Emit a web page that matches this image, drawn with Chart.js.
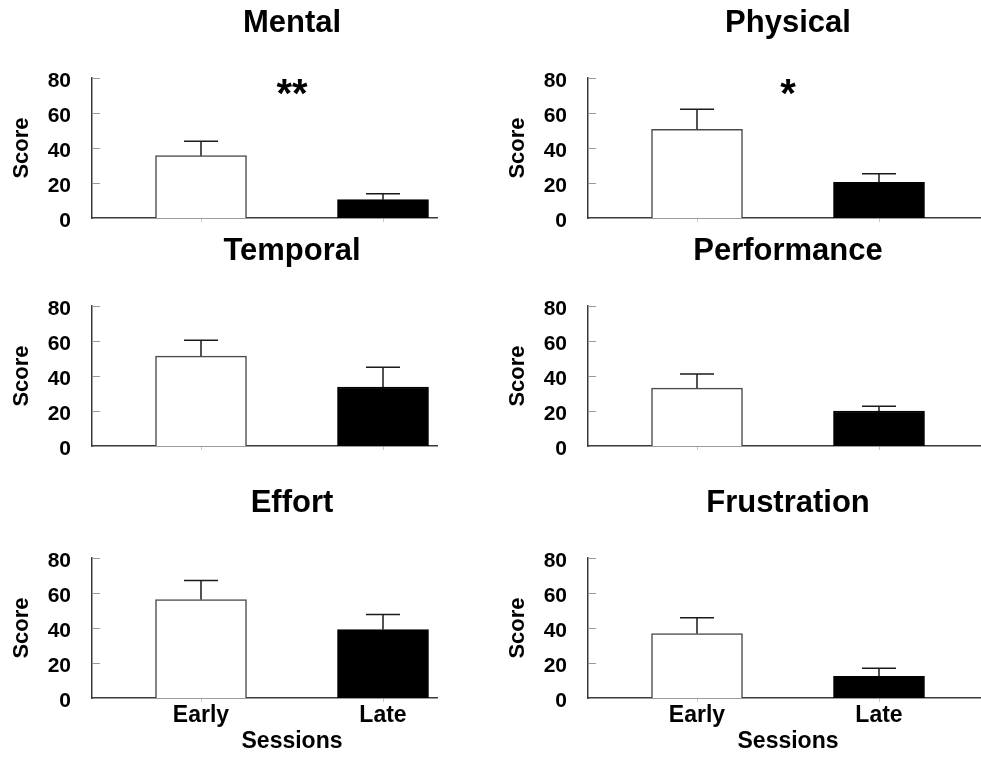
<!DOCTYPE html>
<html>
<head>
<meta charset="utf-8">
<script src="https://cdn.jsdelivr.net/npm/chart.js@4.4.0/dist/chart.umd.min.js"></script>
<style>
  html, body { margin: 0; padding: 0; background: #fff; }
  #wrap { position: relative; width: 981px; height: 757px; overflow: hidden; }
  #wrap canvas { position: absolute; }
</style>
</head>
<body>
<div id="wrap"></div>
<script>
// data
const panels = ['Mental', 'Physical', 'Temporal', 'Performance', 'Effort', 'Frustration'];
const sessions = ['Early', 'Late'];
const earlyMean = [35.6, 50.7, 51.4, 33.1, 56.3, 36.8];
const earlyErr = [8.2, 11.4, 9.0, 8.0, 10.9, 9.0];
const lateMean = [10.5, 20.4, 33.7, 20.0, 39.1, 12.4];
const lateErr = [3.4, 4.9, 11.3, 2.7, 8.6, 4.6];
const signif = ['**', '*', '', '', '', ''];
const yTicks = [0, 20, 40, 60, 80];

const FONT = "'Liberation Sans', Arial, sans-serif";
const rowTop = [0, 228, 480];
const rowHeight = [252, 252, 277];
const colLeft = [0, 490];
const colWidth = [490, 491];
const padL = [0, 6];
const padR = [53, 1];
const plotTop = 78, plotBottom = 218, yAxisW = 92;
const pxPerUnit = 182, firstOffset = 109;

// error bars, inward ticks, panel titles, stars, x title
const decor = {
  id: 'decor',
  afterDatasetsDraw(chart) {
    const { ctx, chartArea, scales: { x, y } } = chart;
    const i = chart.options.plugins.decor.index;
    const meta = chart.getDatasetMeta(0);
    const means = [earlyMean[i], lateMean[i]];
    const errs = [earlyErr[i], lateErr[i]];
    ctx.save();
    ctx.strokeStyle = '#1a1a1a';
    ctx.lineWidth = 1.5;
    meta.data.forEach((bar, k) => {
      const top = y.getPixelForValue(means[k]);
      const hi = y.getPixelForValue(means[k] + errs[k]);
      ctx.beginPath();
      ctx.moveTo(bar.x, top);
      ctx.lineTo(bar.x, hi);
      ctx.moveTo(bar.x - 17, hi);
      ctx.lineTo(bar.x + 17, hi);
      ctx.stroke();
    });
    ctx.strokeStyle = '#9a9a9a';
    ctx.lineWidth = 1;
    yTicks.forEach(v => {
      if (v === 0) return;
      const py = Math.round(y.getPixelForValue(v)) + 0.5;
      ctx.beginPath();
      ctx.moveTo(chartArea.left, py);
      ctx.lineTo(chartArea.left + 8, py);
      ctx.stroke();
    });
    ctx.restore();
  },
  afterDraw(chart) {
    const { ctx, chartArea, scales: { x, y } } = chart;
    const opts = chart.options.plugins.decor;
    const i = opts.index;
    const mid = (x.getPixelForValue(1) + x.getPixelForValue(2)) / 2;
    ctx.save();
    ctx.fillStyle = '#000';
    ctx.textAlign = 'center';
    ctx.textBaseline = 'alphabetic';
    ctx.font = 'bold 31px ' + FONT;
    ctx.fillText(panels[i], mid, chartArea.top - 46);
    if (signif[i]) {
      ctx.font = 'bold 40px ' + FONT;
      const m = ctx.measureText(signif[i]);
      const cy = y.getPixelForValue(74.6);
      const base = cy + (m.actualBoundingBoxAscent - m.actualBoundingBoxDescent) / 2;
      ctx.fillText(signif[i], mid, base);
    }
    if (opts.showX) {
      ctx.font = 'bold 23px ' + FONT;
      ctx.fillText('Sessions', mid, chartArea.bottom + 50);
    }
    ctx.restore();
  }
};

const wrap = document.getElementById('wrap');

panels.forEach((name, i) => {
  const row = Math.floor(i / 2), col = i % 2;
  const bottomRow = row === 2;
  const canvas = document.createElement('canvas');
  canvas.width = colWidth[col];
  canvas.height = rowHeight[row];
  canvas.style.left = colLeft[col] + 'px';
  canvas.style.top = rowTop[row] + 'px';
  wrap.appendChild(canvas);

  const plotW = colWidth[col] - padL[col] - padR[col] - yAxisW;
  const xMin = 1 - firstOffset / pxPerUnit;
  const xMax = xMin + plotW / pxPerUnit;

  new Chart(canvas.getContext('2d'), {
    type: 'bar',
    data: {
      datasets: [{
        data: [{ x: 1, y: earlyMean[i] }, { x: 2, y: lateMean[i] }],
        backgroundColor: ['#ffffff', '#000000'],
        borderColor: ['#4a4a4a', '#000000'],
        borderWidth: 1.5,
        barThickness: 91
      }]
    },
    options: {
      responsive: false,
      animation: false,
      devicePixelRatio: 1,
      layout: { padding: { top: plotTop, left: padL[col], right: padR[col], bottom: 0 } },
      plugins: {
        legend: { display: false },
        tooltip: { enabled: false },
        decor: { index: i, showX: bottomRow }
      },
      scales: {
        x: {
          type: 'linear',
          offset: false,
          min: xMin,
          max: xMax,
          afterBuildTicks: s => { s.ticks = [{ value: 1 }, { value: 2 }]; },
          afterFit: s => { s.height = rowHeight[row] - plotBottom; },
          border: { display: true, color: '#3a3a3a', width: 1.5 },
          grid: { offset: false, drawOnChartArea: false, drawTicks: true, tickLength: 4, color: '#c8c8c8' },
          ticks: {
            display: bottomRow,
            padding: 0,
            color: '#000',
            font: { family: FONT, size: 23, weight: 'bold' },
            callback: v => sessions[v - 1]
          }
        },
        y: {
          min: 0,
          max: 80,
          afterBuildTicks: s => { s.ticks = yTicks.map(v => ({ value: v })); },
          afterFit: s => { s.width = yAxisW; },
          border: { display: true, color: '#3a3a3a', width: 1.5 },
          grid: { display: false, drawTicks: false },
          ticks: {
            padding: 21,
            labelOffset: 3,
            color: '#000',
            font: { family: FONT, size: 21, weight: 'bold' }
          },
          title: {
            display: true,
            text: 'Score',
            color: '#000',
            padding: { top: 8.8, bottom: 0 },
            font: { family: FONT, size: 22, weight: 'bold' }
          }
        }
      }
    },
    plugins: [decor]
  });
});
</script>
</body>
</html>
